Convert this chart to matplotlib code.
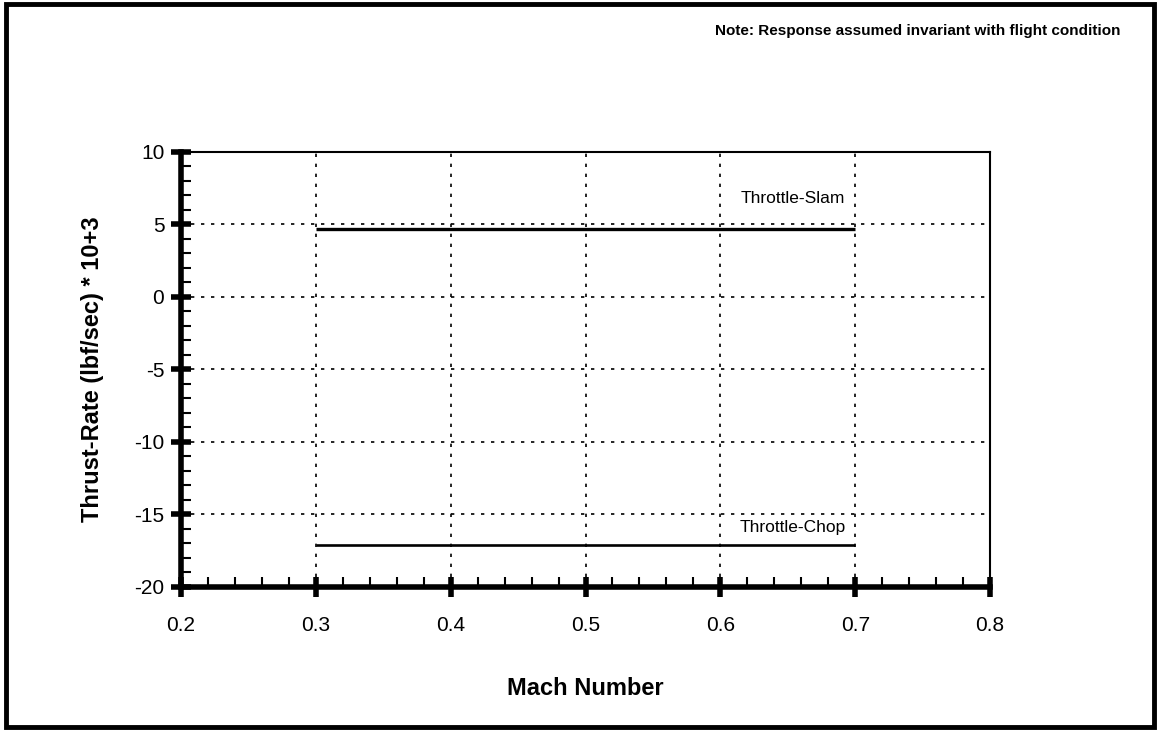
import numpy as np
import matplotlib.pyplot as plt
from matplotlib.patches import Rectangle
from matplotlib.ticker import MultipleLocator

plt.rcParams['font.family'] = ['Liberation Sans', 'DejaVu Sans']

# data
mach = [0.3, 0.7]
slam = [4.7, 4.7]
chop = [-17.1, -17.1]
xTicks = [0.2, 0.3, 0.4, 0.5, 0.6, 0.7, 0.8]
yTicks = [-20, -15, -10, -5, 0, 5, 10]

fig = plt.figure(figsize=(11.62, 7.30), dpi=100)
ax = fig.add_axes([0.1558, 0.196, 0.6962, 0.596])

ax.plot(mach, slam, color='black', lw=2.4, solid_capstyle='butt')
ax.plot(mach, chop, color='black', lw=1.9, solid_capstyle='butt')

ax.set_xlim(0.2, 0.8)
ax.set_ylim(-20, 10)
ax.set_xticks(xTicks)
ax.set_yticks(yTicks)
ax.set_xticklabels(['%.1f' % v for v in xTicks], fontsize=15)
ax.set_yticklabels([str(v) for v in yTicks], fontsize=15)
ax.xaxis.set_minor_locator(MultipleLocator(0.02))
ax.yaxis.set_minor_locator(MultipleLocator(1))

ax.tick_params(which='major', direction='inout', length=14, width=4)
ax.tick_params(which='minor', direction='in', length=7, width=1.5)
ax.tick_params(axis='x', which='major', pad=14)
ax.tick_params(axis='y', which='major', pad=5)

ax.grid(True, which='major', linestyle=(0, (2, 4)), color='black', lw=1.2)

ax.spines['left'].set_linewidth(4)
ax.spines['bottom'].set_linewidth(4)
ax.spines['top'].set_linewidth(1.5)
ax.spines['right'].set_linewidth(1.5)

ax.text(0.654, 6.8, 'Throttle-Slam', ha='center', va='center', fontsize=12.5)
ax.text(0.654, -15.9, 'Throttle-Chop', ha='center', va='center', fontsize=12.5)

ax.set_xlabel('Mach Number', fontsize=17, fontweight='bold', labelpad=30)
ax.set_ylabel('Thrust-Rate (lbf/sec) * 10+3', fontsize=17, fontweight='bold', labelpad=22)

fig.text(0.964, 0.958, 'Note: Response assumed invariant with flight condition',
         ha='right', va='center', fontsize=11, fontweight='bold')

fig.patches.append(Rectangle((0.005, 0.004), 0.988, 0.99, transform=fig.transFigure,
                             fill=False, edgecolor='black', lw=3.5))

plt.savefig('out.png', dpi=100)
